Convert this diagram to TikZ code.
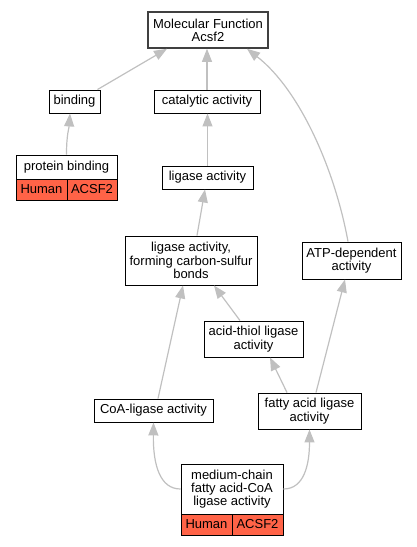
\documentclass[tikz,border=0pt]{standalone}
\usepackage{fontspec}
\setmainfont{Liberation Sans}
\usetikzlibrary{arrows.meta}
\definecolor{edgegray}{HTML}{C0C0C0}
\definecolor{speciesred}{HTML}{FF6347}

\begin{document}
\begin{tikzpicture}[
  x=1pt, y=-1pt,
  box/.style={draw, rectangle, align=center, inner sep=0pt, line width=0.9pt, font=\fontsize{13}{13.3}\selectfont},
  root/.style={box, draw=black!75, line width=1.6pt},
  species/.style={box, fill=speciesred, minimum width=51pt, minimum height=21pt},
  edge/.style={-{Triangle[length=13pt, width=10pt]}, draw=edgegray, line width=1.2pt}
]
\useasboundingbox (0,0) rectangle (417,547);

% Nodes
\node[root, minimum width=120pt, minimum height=36pt] (mf) at (208,30) {Molecular Function\\Acsf2};
\node[box, minimum width=51pt, minimum height=23pt] (binding) at (74.5,101.5) {binding};
\node[box, minimum width=106pt, minimum height=23pt] (catalytic) at (207,101.5) {catalytic activity};
\node[box, minimum width=101pt, minimum height=24pt] (pbhead) at (66.5,167) {protein binding};
\node[species] (pbhuman) at (41.5,189.5) {Human};
\node[species, minimum width=50pt] (pbgene) at (92,189.5) {ACSF2};
\node[box, minimum width=91pt, minimum height=23pt] (ligase) at (207.5,177.5) {ligase activity};
\node[box, minimum width=132pt, minimum height=49pt] (ligasecs) at (191,260.5) {ligase activity,\\forming carbon-sulfur\\bonds};
\node[box, minimum width=99pt, minimum height=37pt] (atp) at (351.5,260.5) {ATP-dependent\\activity};
\node[box, minimum width=99pt, minimum height=36pt] (acidthiol) at (253.5,339) {acid-thiol ligase\\activity};
\node[box, minimum width=119pt, minimum height=23pt] (coa) at (153.5,410.5) {CoA-ligase activity};
\node[box, minimum width=103pt, minimum height=36pt] (fatty) at (309.5,411) {fatty acid ligase\\activity};
\node[box, minimum width=102pt, minimum height=50pt] (mchead) at (232,489) {medium-chain\\fatty acid-CoA\\ligase activity};
\node[species] (mchuman) at (206.5,524.5) {Human};
\node[species] (mcgene) at (257.5,524.5) {ACSF2};

% Edges
\draw[edge] ([xshift=-3pt]binding.north east) -- ([xshift=-41pt]mf.south);
\draw[edge] (catalytic.north) -- (catalytic.north |- mf.south);
\draw[edge] ([xshift=-3.5pt]atp.north) .. controls (335,170) and (300,90) .. ([xshift=39pt]mf.south);
\draw[edge] (pbhead.north) .. controls +(0,-20) and +(-1,15) .. ([xshift=-4.5pt]binding.south);
\draw[edge] (ligase.north) -- (ligase.north |- catalytic.south);
\draw[edge] ([xshift=6pt]ligasecs.north) -- ([xshift=-2.5pt]ligase.south);
\draw[edge] ([xshift=-13.5pt]acidthiol.north) -- ([xshift=23pt]ligasecs.south);
\draw[edge] ([xshift=-22.5pt]fatty.north) -- ([xshift=16.5pt]acidthiol.south);
\draw[edge] ([xshift=6.5pt]fatty.north) -- ([xshift=-6.5pt]atp.south);
\draw[edge] ([xshift=4.5pt]coa.north) -- ([xshift=-8pt]ligasecs.south);
\draw[edge] (mchead.west) .. controls (160,489) and (153,465) .. (coa.south);
\draw[edge] (mchead.east) .. controls (304,489) and (309.5,465) .. (fatty.south);

\end{tikzpicture}
\end{document}
